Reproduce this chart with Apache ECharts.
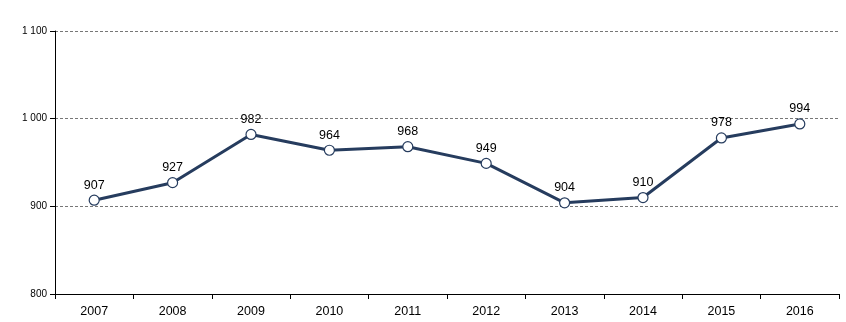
<!DOCTYPE html>
<html><head><meta charset="utf-8">
<script src="https://cdn.jsdelivr.net/npm/echarts@6/dist/echarts.min.js"></script>
<style>html,body{margin:0;padding:0;background:#fff}#c{width:846px;height:322px}</style>
</head><body><div id="c"></div>
<script>
const years = ['2007','2008','2009','2010','2011','2012','2013','2014','2015','2016'];
const values = [907, 927, 982, 964, 968, 949, 904, 910, 978, 994];
const yTicks = [800, 900, 1000, 1100];

const chart = echarts.init(document.getElementById('c'), null, {renderer: 'canvas'});
chart.setOption({
  animation: false,
  grid: {left: 55, right: 7, top: 31, bottom: 28},
  xAxis: {
    type: 'category', data: years, boundaryGap: true,
    axisLine: {lineStyle: {color: '#000', width: 1}},
    axisTick: {show: true, length: 5, lineStyle: {color: '#000'}},
    axisLabel: {color: '#000', fontFamily: 'Arial, Liberation Sans', fontSize: 12.5, margin: 11}
  },
  yAxis: {
    type: 'value', min: yTicks[0], max: yTicks[yTicks.length-1], interval: 100,
    axisLine: {show: true, lineStyle: {color: '#000', width: 1}},
    axisTick: {show: true, length: 5, lineStyle: {color: '#000'}},
    splitLine: {show: true, lineStyle: {color: '#777', type: [3, 2], width: 1}},
    axisLabel: {color: '#000', fontFamily: 'Arial, Liberation Sans', fontSize: 10, margin: 8,
      formatter: v => String(v).replace(/\B(?=(\d{3})+(?!\d))/g, ' ')}
  },
  series: [{
    type: 'line', data: values,
    symbol: 'circle', symbolSize: 10,
    lineStyle: {color: '#263c5e', width: 3},
    itemStyle: {color: '#fff', borderColor: '#263c5e', borderWidth: 1.2},
    label: {show: true, position: 'top', distance: 3, color: '#000', fontFamily: 'Arial, Liberation Sans', fontSize: 12.5}
  }]
});
</script></body></html>
